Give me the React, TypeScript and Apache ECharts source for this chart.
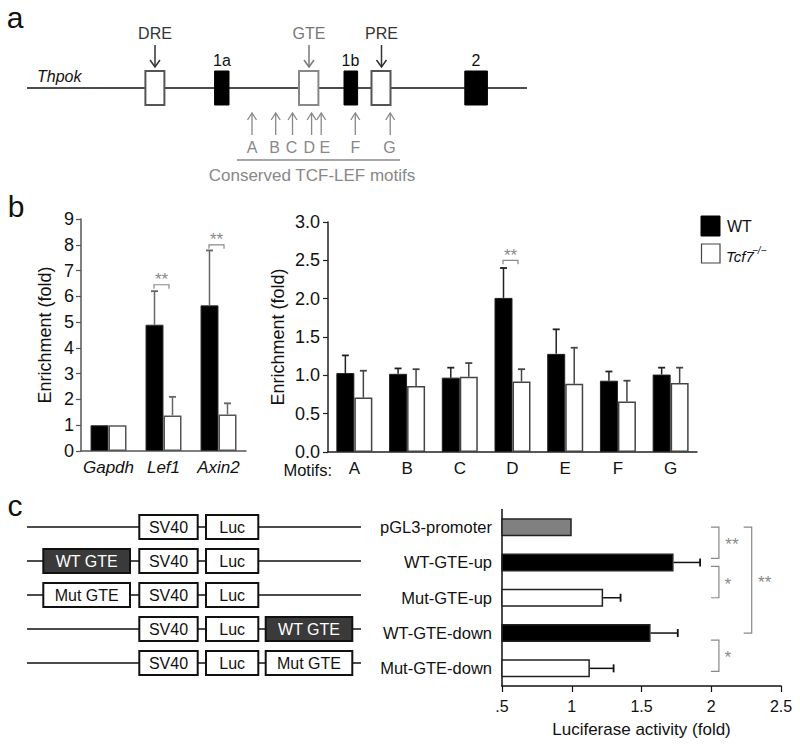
import React, { useEffect, useRef } from "react";
import * as echarts from "echarts";

const FONT = '"Liberation Sans", Arial, Helvetica, sans-serif';

// ---------- panel b (left): control genes ----------
const geneCategories = ["Gapdh", "Lef1", "Axin2"];
const geneWT = [1.0, 4.9, 5.65];
const geneWTUpper = [null, 6.2, 7.78];
const geneKO = [1.0, 1.38, 1.42];
const geneKOUpper = [null, 2.1, 1.85];
const geneSigIndex = [1, 2];
const geneSigLevel = [6.45, 8.0];
const geneSigLabel = ["**", "**"];
const geneTicks = [0, 1, 2, 3, 4, 5, 6, 7, 8, 9];

// ---------- panel b (right): motifs ----------
const motifCategories = ["A", "B", "C", "D", "E", "F", "G"];
const motifWT = [1.03, 1.02, 0.97, 2.01, 1.28, 0.93, 1.01];
const motifWTUpper = [1.26, 1.09, 1.1, 2.4, 1.6, 1.05, 1.1];
const motifKO = [0.71, 0.86, 0.98, 0.92, 0.89, 0.66, 0.9];
const motifKOUpper = [1.06, 1.08, 1.16, 1.08, 1.36, 0.93, 1.1];
const motifSigIndex = [3];
const motifSigLevel = [2.5];
const motifSigLabel = ["**"];
const motifTicks = ["0.0", "0.5", "1.0", "1.5", "2.0", "2.5", "3.0"];

// ---------- panel c: luciferase ----------
const lucCategories = ["pGL3-promoter", "WT-GTE-up", "Mut-GTE-up", "WT-GTE-down", "Mut-GTE-down"];
const lucValues = [1.0, 1.73, 1.225, 1.565, 1.13];
const lucUpper = [null, 1.92, 1.35, 1.76, 1.3];
const lucKind = ["ctrl", "wt", "mut", "wt", "mut"];
const lucSigFrom = [0, 1, 0, 3];
const lucSigTo = [1, 2, 3, 4];
const lucSigAt = [2.055, 2.055, 2.29, 2.055];
const lucSigLabel = ["**", "*", "**", "*"];
const lucTickLabels = [".5", "1", "1.5", "2", "2.5"];

// ---------- diagram texts ----------
const motifLetters = ["A", "B", "C", "D", "E", "F", "G"];

const BAR_W = 18;

function txt(text, x, y, opts: any = {}) {
  return {
    type: "text",
    z: 10,
    style: {
      text,
      x,
      y,
      fill: opts.fill || "#111",
      fontSize: opts.size || 16,
      fontFamily: FONT,
      fontStyle: opts.italic ? "italic" : "normal",
      fontWeight: opts.weight || "normal",
      textAlign: opts.align || "center",
      align: opts.align || "center",
      textVerticalAlign: "middle",
      verticalAlign: "middle",
    },
  };
}
function ln(x1, y1, x2, y2, stroke = "#111", w = 1.5) {
  return { type: "line", z: 5, shape: { x1, y1, x2, y2 }, style: { stroke, lineWidth: w } };
}
function box(x, y, w, h, fill, stroke, lw = 2) {
  return { type: "rect", z: 6, shape: { x, y, width: w, height: h }, style: { fill, stroke, lineWidth: lw } };
}
function arrowDown(x, y1, y2, color) {
  return [
    ln(x, y1, x, y2, color, 1.5),
    { type: "polyline", z: 5, shape: { points: [[x - 5, y2 - 7], [x, y2], [x + 5, y2 - 7]] }, style: { stroke: color, lineWidth: 1.5, fill: null } },
  ];
}
function arrowUp(x, y1, y2, color) {
  return [
    ln(x, y1, x, y2, color, 1.3),
    { type: "polyline", z: 5, shape: { points: [[x - 4.5, y1 + 7], [x, y1], [x + 4.5, y1 + 7]] }, style: { stroke: color, lineWidth: 1.3, fill: null } },
  ];
}

function buildGraphics() {
  const g: any[] = [];
  // panel letters
  g.push(txt("a", 15, 17, { size: 30, align: "center" }));
  g.push(txt("b", 16, 206, { size: 30 }));
  g.push(txt("c", 15, 505, { size: 30 }));

  // ---- panel a ----
  g.push(ln(27, 88, 527, 88, "#111", 1.5));
  g.push(txt("Thpok", 37, 76, { italic: true, align: "left" }));
  g.push(box(145.4, 71, 19, 34, "#fff", "#555"));
  g.push(box(214.6, 71, 14.4, 34, "#000", "#000", 1));
  g.push(box(299, 71, 19.4, 34, "#fff", "#888"));
  g.push(box(344, 71, 13.6, 34, "#000", "#000", 1));
  g.push(box(371.5, 71, 19, 34, "#fff", "#555"));
  g.push(box(464.8, 71, 22.6, 34, "#000", "#000", 1));
  g.push(txt("DRE", 155, 33, { fill: "#333" }));
  g.push(txt("GTE", 309, 33, { fill: "#777" }));
  g.push(txt("PRE", 381.5, 33, { fill: "#333" }));
  g.push(txt("1a", 222, 60));
  g.push(txt("1b", 350.5, 60));
  g.push(txt("2", 476, 60));
  g.push(...arrowDown(155, 45, 67, "#333"));
  g.push(...arrowDown(309, 45, 67, "#777"));
  g.push(...arrowDown(381.5, 45, 67, "#333"));
  const arrowXs = [252, 275.7, 292.5, 311.6, 321.2, 355.3, 390.2];
  const letterXs = [252, 274.6, 291.5, 309.4, 324.8, 355.3, 389.5];
  arrowXs.forEach((x) => g.push(...arrowUp(x, 113, 135, "#888")));
  motifLetters.forEach((l, i) => g.push(txt(l, letterXs[i], 147, { fill: "#888" })));
  g.push(ln(237, 160, 400, 160, "#888", 1.3));
  g.push(txt("Conserved TCF-LEF motifs", 312, 175, { fill: "#888", size: 17 }));

  // ---- legend ----
  g.push(box(701, 216, 19, 20, "#000", "#000", 1));
  g.push(box(701.5, 244, 18.5, 19, "#fff", "#444", 1.2));
  g.push(txt("WT", 727, 226, { align: "left" }));
  g.push(txt("Tcf7", 726, 256, { align: "left", italic: true, size: 15 }));
  g.push(txt("\u2212/\u2212", 752, 250, { align: "left", italic: true, size: 10 }));

  // ---- panel b labels ----
  g.push(txt("Motifs:", 332, 470, { align: "right", size: 16.5 }));

  // ---- panel c constructs ----
  const rows = [527, 561, 595, 629, 663];
  const H = 24;
  rows.forEach((y, r) => {
    g.push(ln(27, y, 361, y, "#111", 1.5));
    g.push(box(139.3, y - H / 2, 58.4, H, "#fff", "#111"));
    g.push(txt("SV40", 168.5, y, { size: 16 }));
    g.push(box(206, y - H / 2, 52.3, H, "#fff", "#111"));
    g.push(txt("Luc", 232.2, y, { size: 16 }));
    if (r === 1 || r === 2) {
      const wt = r === 1;
      g.push(box(43.3, y - H / 2, 86.7, H, wt ? "#3a3a3a" : "#fff", "#111"));
      g.push(txt(wt ? "WT GTE" : "Mut GTE", 86.7, y, { size: 16, fill: wt ? "#fff" : "#111" }));
    }
    if (r === 3 || r === 4) {
      const wt = r === 3;
      g.push(box(265.7, y - H / 2, 86.6, H, wt ? "#3a3a3a" : "#fff", "#111"));
      g.push(txt(wt ? "WT GTE" : "Mut GTE", 309, y, { size: 16, fill: wt ? "#fff" : "#111" }));
    }
  });
  return g;
}

function vErr(xi, yi, cats, vals, uppers, dx, color) {
  const data = cats
    .map((_, i) => [i, vals[i], uppers[i]])
    .filter((d) => d[2] !== null && d[2] !== undefined);
  return {
    type: "custom",
    xAxisIndex: xi,
    yAxisIndex: yi,
    z: 5,
    silent: true,
    encode: { x: 0, y: [1, 2] },
    data,
    renderItem: (params, api) => {
      const i = api.value(0);
      const a = api.coord([i, api.value(1)]);
      const b = api.coord([i, api.value(2)]);
      const x = a[0] + dx;
      return {
        type: "group",
        children: [
          { type: "line", shape: { x1: x, y1: a[1], x2: x, y2: b[1] }, style: { stroke: color, lineWidth: 1.5 } },
          { type: "line", shape: { x1: x - 3.5, y1: b[1], x2: x + 3.5, y2: b[1] }, style: { stroke: color, lineWidth: 1.8 } },
        ],
      };
    },
  };
}

function vSig(xi, yi, idxs, levels, labels) {
  return {
    type: "custom",
    xAxisIndex: xi,
    yAxisIndex: yi,
    z: 5,
    silent: true,
    encode: { x: 0, y: 1 },
    data: idxs.map((c, k) => [c, levels[k]]),
    renderItem: (params, api) => {
      const p = api.coord([api.value(0), api.value(1)]);
      const x1 = p[0] - 9.5;
      const x2 = p[0] + 5.5;
      const y = p[1];
      const c = "#888";
      return {
        type: "group",
        children: [
          { type: "polyline", shape: { points: [[x1, y + 4], [x1, y], [x2, y], [x2, y + 4]] }, style: { stroke: c, lineWidth: 1.2, fill: null } },
          {
            type: "text",
            style: {
              text: labels[params.dataIndex], x: (x1 + x2) / 2, y: y - 5, fill: c, fontSize: 17, fontFamily: FONT,
              textAlign: "center", align: "center", textVerticalAlign: "middle", verticalAlign: "middle",
            },
          },
        ],
      };
    },
  };
}

export default function App() {
  const ref = useRef<HTMLDivElement>(null);
  useEffect(() => {
    const chart = echarts.init(ref.current, null, { renderer: "svg" });
    const axisTextStyle = { color: "#111", fontFamily: FONT };
    const option: any = {
      animation: false,
      backgroundColor: "#fff",
      textStyle: { fontFamily: FONT },
      grid: [
        { left: 81, top: 219, width: 165, height: 232 },
        { left: 328, top: 222, width: 369, height: 230 },
        { left: 502, top: 509.5, width: 279, height: 176.5 },
      ],
      xAxis: [
        {
          gridIndex: 0, type: "category", data: geneCategories,
          axisLine: { lineStyle: { color: "#555", width: 1.5 } },
          axisTick: { show: false },
          axisLabel: { ...axisTextStyle, fontSize: 17, fontStyle: "italic", margin: 8, interval: 0 },
        },
        {
          gridIndex: 1, type: "category", data: motifCategories,
          axisLine: { lineStyle: { color: "#222", width: 1.5 } },
          axisTick: { show: false },
          axisLabel: { ...axisTextStyle, fontSize: 17, margin: 8, interval: 0 },
        },
        {
          gridIndex: 2, type: "value", min: 0.5, max: 2.5, interval: 0.5,
          axisLine: { show: true, lineStyle: { color: "#111", width: 1.5 } },
          axisTick: { show: true, length: 6, lineStyle: { color: "#111", width: 1.2 } },
          splitLine: { show: false },
          axisLabel: {
            ...axisTextStyle, fontSize: 16, margin: 12,
            formatter: (v) => lucTickLabels[Math.round((v - 0.5) / 0.5)] ?? String(v),
          },
          name: "Luciferase activity (fold)", nameLocation: "middle", nameGap: 35,
          nameTextStyle: { ...axisTextStyle, fontSize: 17 },
        },
      ],
      yAxis: [
        {
          gridIndex: 0, type: "value", min: 0, max: 9, interval: 1,
          axisLine: { show: true, lineStyle: { color: "#555", width: 1.5 } },
          axisTick: { show: true, length: 5, lineStyle: { color: "#555", width: 1.2 } },
          splitLine: { show: false },
          axisLabel: { ...axisTextStyle, fontSize: 18, margin: 7, formatter: (v) => String(geneTicks[Math.round(v)]) },
          name: "Enrichment (fold)", nameLocation: "middle", nameGap: 27, nameRotate: 90,
          nameTextStyle: { ...axisTextStyle, fontSize: 18 },
        },
        {
          gridIndex: 1, type: "value", min: 0, max: 3, interval: 0.5,
          axisLine: { show: true, lineStyle: { color: "#222", width: 1.5 } },
          axisTick: { show: true, length: 5, lineStyle: { color: "#222", width: 1.2 } },
          splitLine: { show: false },
          axisLabel: { ...axisTextStyle, fontSize: 18, margin: 8, formatter: (v) => motifTicks[Math.round(v / 0.5)] },
          name: "Enrichment (fold)", nameLocation: "middle", nameGap: 41, nameRotate: 90,
          nameTextStyle: { ...axisTextStyle, fontSize: 18 },
        },
        {
          gridIndex: 2, type: "category", data: lucCategories, inverse: true,
          axisLine: { show: true, lineStyle: { color: "#111", width: 1.5 } },
          axisTick: { show: false },
          axisLabel: { ...axisTextStyle, fontSize: 16.5, margin: 10, interval: 0 },
        },
      ],
      series: [
        {
          type: "bar", xAxisIndex: 0, yAxisIndex: 0, data: geneWT, barWidth: BAR_W, barGap: "0%",
          itemStyle: { color: "#000", borderColor: "#333", borderWidth: 1 },
        },
        {
          type: "bar", xAxisIndex: 0, yAxisIndex: 0, data: geneKO, barWidth: BAR_W, barGap: "0%",
          itemStyle: { color: "#fff", borderColor: "#555", borderWidth: 1.5 },
        },
        {
          type: "bar", xAxisIndex: 1, yAxisIndex: 1, data: motifWT, barWidth: BAR_W, barGap: "0%",
          itemStyle: { color: "#000", borderColor: "#222", borderWidth: 1 },
        },
        {
          type: "bar", xAxisIndex: 1, yAxisIndex: 1, data: motifKO, barWidth: BAR_W, barGap: "0%",
          itemStyle: { color: "#fff", borderColor: "#444", borderWidth: 1.5 },
        },
        {
          type: "bar", xAxisIndex: 2, yAxisIndex: 2, barWidth: 18,
          data: lucValues.map((v, i) => ({
            value: v,
            itemStyle: {
              color: lucKind[i] === "ctrl" ? "#808080" : lucKind[i] === "wt" ? "#000" : "#fff",
              borderColor: "#222",
              borderWidth: 1.5,
            },
          })),
        },
        vErr(0, 0, geneCategories, geneWT, geneWTUpper, -BAR_W / 2, "#666"),
        vErr(0, 0, geneCategories, geneKO, geneKOUpper, BAR_W / 2, "#666"),
        vErr(1, 1, motifCategories, motifWT, motifWTUpper, -BAR_W / 2, "#222"),
        vErr(1, 1, motifCategories, motifKO, motifKOUpper, BAR_W / 2, "#444"),
        vSig(0, 0, geneSigIndex, geneSigLevel, geneSigLabel),
        vSig(1, 1, motifSigIndex, motifSigLevel, motifSigLabel),
        {
          type: "custom", xAxisIndex: 2, yAxisIndex: 2, z: 5, silent: true,
          encode: { x: [1, 2], y: 0 },
          data: lucCategories.map((_, i) => [i, lucValues[i], lucUpper[i]]).filter((d) => d[2] !== null),
          renderItem: (params, api) => {
            const i = api.value(0);
            const a = api.coord([api.value(1), i]);
            const b = api.coord([api.value(2), i]);
            return {
              type: "group",
              children: [
                { type: "line", shape: { x1: a[0], y1: a[1], x2: b[0], y2: a[1] }, style: { stroke: "#111", lineWidth: 1.5 } },
                { type: "line", shape: { x1: b[0], y1: a[1] - 4, x2: b[0], y2: a[1] + 4 }, style: { stroke: "#111", lineWidth: 1.8 } },
              ],
            };
          },
        },
        {
          type: "custom", xAxisIndex: 2, yAxisIndex: 2, z: 5, silent: true,
          encode: { x: 2, y: [0, 1] },
          data: lucSigFrom.map((f, k) => [f, lucSigTo[k], lucSigAt[k]]),
          renderItem: (params, api) => {
            const k = params.dataIndex;
            const topPad = [0, 4, 0, 7][k];
            const botPad = [-4, 0, 0, 3][k];
            const p1 = api.coord([api.value(2), api.value(0)]);
            const p2 = api.coord([api.value(2), api.value(1)]);
            const x = p1[0];
            const y1 = p1[1] + topPad;
            const y2 = p2[1] + botPad;
            const c = "#888";
            return {
              type: "group",
              children: [
                { type: "polyline", shape: { points: [[x - 8, y1], [x, y1], [x, y2], [x - 8, y2]] }, style: { stroke: c, lineWidth: 1.2, fill: null } },
                {
                  type: "text",
                  style: {
                    text: lucSigLabel[k], x: x + (lucSigLabel[k].length > 1 ? 13 : 9), y: (y1 + y2) / 2 + 2, fill: c,
                    fontSize: 17, fontFamily: FONT, textAlign: "center", align: "center",
                    textVerticalAlign: "middle", verticalAlign: "middle",
                  },
                },
              ],
            };
          },
        },
      ],
      graphic: buildGraphics(),
    };
    chart.setOption(option);
    return () => chart.dispose();
  }, []);
  return (
    <div
      ref={ref}
      style={{ position: "absolute", left: 0, top: 0, width: 800, height: 744, background: "#fff" }}
    />
  );
}
